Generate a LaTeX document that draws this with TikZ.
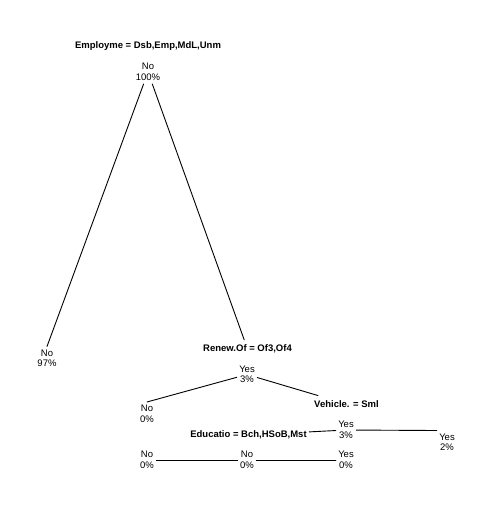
\documentclass[tikz,border=0pt]{standalone}
\usepackage{fontspec}
\setmainfont{Liberation Sans}
\begin{document}
\begin{tikzpicture}[x=1pt,y=-1pt,line cap=round,line join=round,line width=0.9pt,
  every node/.style={font=\fontsize{9.5}{10.5}\selectfont,inner xsep=2pt,inner ysep=3pt},
  splitlab/.style={font=\fontsize{9.5}{10.5}\selectfont\bfseries,inner ysep=4.5pt},
  nodelab/.style={align=center}]
  \useasboundingbox (0,0) rectangle (496,507);
  % split labels
  \node[splitlab] (s1) at (148,46) {Employme = Dsb,Emp,MdL,Unm};
  \node[splitlab] (s3) at (247.5,349) {Renew.Of = Of3,Of4};
  \node[splitlab] (s7) at (346.5,404) {Vehicle. = Sml};
  \node[splitlab] (s14) at (248.5,435) {Educatio = Bch,HSoB,Mst};
  % class and share at each node
  \node[nodelab] (n1) at (148,72) {No\\100\%};
  \node[nodelab] (n2) at (47,358.5) {No\\97\%};
  \node[nodelab] (n3) at (247,374.5) {Yes\\3\%};
  \node[nodelab] (n6) at (147,414) {No\\0\%};
  \node[nodelab] (n7) at (346,430) {Yes\\3\%};
  \node[nodelab] (n15) at (447,442.5) {Yes\\2\%};
  \node[nodelab] (n14) at (247,460) {No\\0\%};
  \node[nodelab] (n28) at (147,460) {No\\0\%};
  \node[nodelab] (n29) at (346,460) {Yes\\0\%};
  % branches
  \draw (n1) -- (n2.north);
  \draw (n1) -- (s3);
  \draw (n3) -- (n6.north);
  \draw (n3) -- (s7);
  \draw (n7) -- (s14);
  \draw (n7) -- (n15.north west);
  \draw (n14) -- (n28);
  \draw (n14) -- (n29);
\end{tikzpicture}
\end{document}
